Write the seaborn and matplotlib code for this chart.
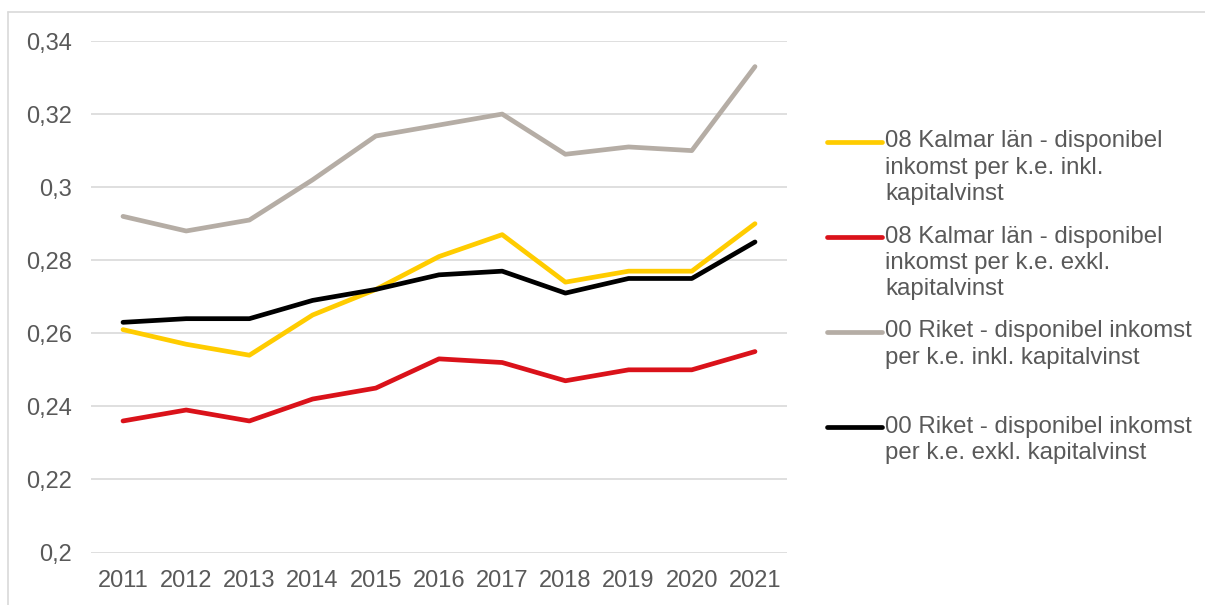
import numpy as np
import pandas as pd
import seaborn as sns
import matplotlib.pyplot as plt
from matplotlib.lines import Line2D
from matplotlib.ticker import FuncFormatter

years = [2011, 2012, 2013, 2014, 2015, 2016, 2017, 2018, 2019, 2020, 2021]

kalmar_inkl = [0.261, 0.257, 0.254, 0.265, 0.272, 0.281, 0.287, 0.274, 0.277, 0.277, 0.290]
kalmar_exkl = [0.236, 0.239, 0.236, 0.242, 0.245, 0.253, 0.252, 0.247, 0.250, 0.250, 0.255]
riket_inkl = [0.292, 0.288, 0.291, 0.302, 0.314, 0.317, 0.320, 0.309, 0.311, 0.310, 0.333]
riket_exkl = [0.263, 0.264, 0.264, 0.269, 0.272, 0.276, 0.277, 0.271, 0.275, 0.275, 0.285]

labels = [
    "08 Kalmar län - disponibel\ninkomst per k.e. inkl.\nkapitalvinst",
    "08 Kalmar län - disponibel\ninkomst per k.e. exkl.\nkapitalvinst",
    "00 Riket - disponibel inkomst\nper k.e. inkl. kapitalvinst",
    "00 Riket - disponibel inkomst\nper k.e. exkl. kapitalvinst",
]
colors = ["#FFCC00", "#DA121A", "#B5ADA5", "#000000"]

# långt format för seaborn
df = pd.concat([
    pd.DataFrame({"År": years, "Värde": vals, "Serie": lab})
    for vals, lab in zip([kalmar_inkl, kalmar_exkl, riket_inkl, riket_exkl], labels)
])

sns.set_style("white")
plt.rcParams["font.family"] = ["Liberation Sans", "DejaVu Sans"]
FS = 17
FS_LEG = 17.3
TXT = "#595959"

W, H = 1205, 605
fig = plt.figure(figsize=(W / 100, H / 100), dpi=100)
ax = fig.add_axes([91.4 / W, 1 - 552.5 / H, 695.2 / W, 511.5 / H])

sns.lineplot(data=df, x="År", y="Värde", hue="Serie", palette=colors,
             linewidth=3.4, ax=ax, legend=False)

ax.set_xlim(2010.5, 2021.5)
ax.set_ylim(0.2, 0.34)
ax.set_xticks(years)
ax.set_yticks(np.arange(0.2, 0.3401, 0.02))
ax.yaxis.set_major_formatter(FuncFormatter(lambda v, p: f"{v:.2f}".rstrip("0").replace(".", ",")))
ax.grid(axis="y", color="#d9d9d9", linewidth=1.2)
ax.set_axisbelow(True)
ax.tick_params(axis="both", length=0, labelsize=FS, labelcolor=TXT)
ax.tick_params(axis="x", pad=12.5)
ax.tick_params(axis="y", pad=14)
ax.set_xlabel("")
ax.set_ylabel("")
for s in ax.spines.values():
    s.set_visible(False)

# legend i Excel-stil: linjen vid första textraden
for i, (lab, col) in enumerate(zip(labels, colors)):
    y = 1 - (142 + 95 * i) / H
    fig.add_artist(Line2D([826.7 / W, 881.7 / W], [y, y], color=col, linewidth=3.4,
                          solid_capstyle="round", transform=fig.transFigure))
    fig.text(885 / W, y + 11.5 / H, lab, fontsize=FS_LEG, color=TXT, va="top",
             linespacing=1.25, transform=fig.transFigure)

# ram (bara övre och vänstra kanten syns)
fig.add_artist(Line2D([8 / W, 1], [1 - 12 / H, 1 - 12 / H], color="#d9d9d9",
                      linewidth=1.2, transform=fig.transFigure))
fig.add_artist(Line2D([8 / W, 8 / W], [0, 1 - 12 / H], color="#d9d9d9",
                      linewidth=1.2, transform=fig.transFigure))

fig.savefig("out.png", dpi=100)
